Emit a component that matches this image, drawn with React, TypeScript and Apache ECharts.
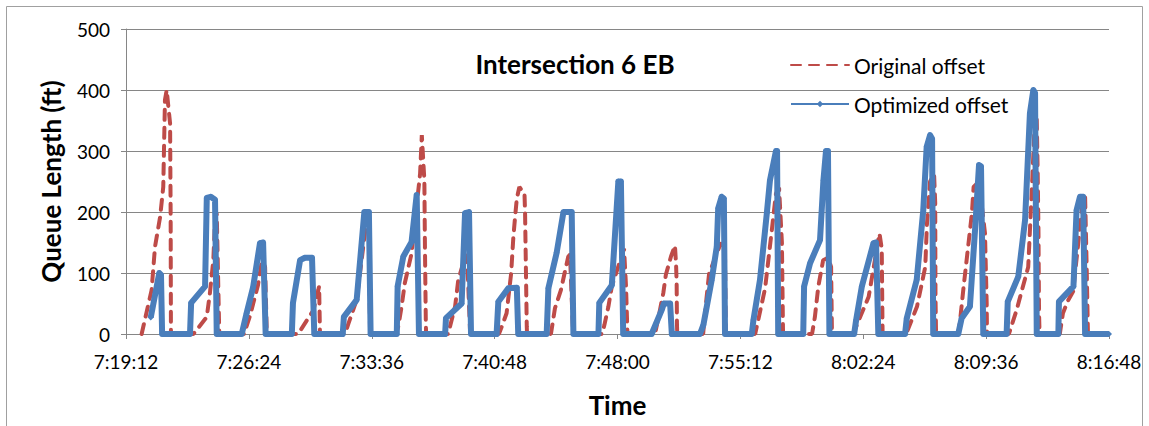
import React, { useEffect, useRef } from "react";
import * as echarts from "echarts";

// time axis: seconds after 7:19:12, one tick every 7:12
const tickStep = 432;
const xTickLabels = [
  "7:19:12",
  "7:26:24",
  "7:33:36",
  "7:40:48",
  "7:48:00",
  "7:55:12",
  "8:02:24",
  "8:09:36",
  "8:16:48",
];

// Original offset (red dashed)
const origTime = [
  55, 90, 102, 120, 131, 137, 143, 155, 157, 158,
  237, 284, 295, 307, 313, 319, 328,
  415, 436, 464, 478, 489, 495,
  605, 659, 676, 679, 682,
  770, 782, 811, 844, 854, 858,
  949, 957, 969, 980, 1004, 1034, 1040, 1049, 1051, 1054, 1055,
  1132, 1139, 1157, 1168, 1192, 1199, 1210,
  1311, 1321, 1338, 1354, 1362, 1368, 1374, 1383, 1401, 1403, 1409, 1410,
  1494, 1508, 1529, 1543, 1555, 1561, 1572,
  1674, 1682, 1696, 1708, 1751, 1758, 1763,
  1860, 1875, 1889, 1898, 1916, 1930, 1934, 1936, 1937, 1938,
  2029, 2039, 2050, 2092, 2106, 2109,
  2212, 2247, 2268, 2285, 2296, 2306, 2310,
  2412, 2422, 2434, 2451, 2468, 2479, 2482,
  2556, 2611, 2649, 2657, 2660,
  2743, 2781, 2810, 2816, 2827, 2841, 2845, 2846, 2848,
  2926, 2932, 2945, 2974, 2980, 2999, 3020, 3026, 3027,
  3104, 3131, 3172, 3186, 3196, 3202, 3205, 3208, 3210, 3212,
  3283, 3294, 3312, 3330, 3365, 3372, 3377, 3382,
  3456,
];
const origQueue = [
  0, 72, 143, 192, 241, 384, 400, 345, 192, 0,
  0, 28, 67, 121, 187, 198, 0,
  0, 30, 80, 121, 110, 0,
  0, 39, 72, 78, 0,
  0, 17, 56, 180, 190, 0,
  0, 12, 45, 83, 132, 263, 326, 252, 143, 23, 0,
  0, 12, 45, 88, 127, 130, 0,
  0, 12, 34, 99, 160, 192, 222, 241, 230, 200, 12, 0,
  0, 42, 72, 102, 127, 130, 0,
  0, 15, 45, 78, 140, 78, 0,
  0, 34, 67, 97, 127, 145, 113, 82, 18, 0,
  0, 50, 99, 150, 127, 0,
  0, 75, 160, 230, 240, 150, 0,
  0, 28, 78, 121, 125, 110, 0,
  0, 61, 165, 140, 0,
  0, 45, 110, 181, 250, 262, 215, 61, 0,
  0, 20, 78, 198, 241, 250, 165, 50, 0,
  0, 39, 110, 250, 360, 351, 274, 170, 34, 0,
  0, 34, 55, 70, 225, 225, 121, 0,
  0,
];

// Optimized offset (blue with markers)
const optTime = [
  87, 117, 123, 127,
  225, 229, 278, 284, 298, 313, 319,
  407, 424, 447, 471, 482, 491,
  583, 587, 612, 629, 654, 662,
  762, 766, 811, 838, 854, 860,
  952, 955, 975, 1004, 1022, 1030,
  1122, 1125, 1180, 1192, 1206, 1213,
  1303, 1309, 1344, 1374, 1379,
  1479, 1485, 1514, 1538, 1567, 1573,
  1661, 1664, 1708, 1731, 1740, 1748,
  1848, 1884, 1891, 1913, 1919,
  2018, 2030, 2059, 2077, 2082, 2094, 2102, 2106,
  2200, 2206, 2229, 2253, 2264, 2285, 2289, 2293,
  2381, 2384, 2405, 2440, 2452, 2461, 2468, 2473,
  2560, 2567, 2587, 2628, 2637, 2645,
  2739, 2745, 2780, 2803, 2815, 2827, 2834, 2838,
  2926, 2938, 2967, 2985, 2999, 3006, 3014,
  3096, 3100, 3137, 3161, 3178, 3190, 3196, 3202,
  3278, 3280, 3331, 3342, 3354, 3365, 3372,
  3456,
];
const optQueue = [
  27, 100, 97, 0,
  0, 51, 78, 223, 225, 220, 0,
  0, 34, 77, 149, 150, 0,
  0, 51, 121, 125, 125, 0,
  0, 28, 56, 200, 200, 0,
  0, 78, 127, 151, 228, 0,
  0, 26, 50, 198, 200, 0,
  0, 53, 75, 76, 0,
  0, 75, 133, 200, 200, 0,
  0, 51, 80, 250, 250, 0,
  0, 40, 50, 50, 0,
  0, 15, 88, 143, 206, 225, 222, 0,
  0, 23, 89, 198, 252, 300, 300, 0,
  0, 78, 116, 154, 252, 300, 300, 0,
  0, 23, 78, 149, 150, 0,
  0, 26, 89, 203, 307, 326, 320, 0,
  0, 26, 45, 170, 277, 275, 0,
  0, 53, 94, 187, 362, 400, 395, 0,
  0, 53, 78, 203, 225, 225, 0,
  0,
];

const FONT = "Lato";
const GRID_COLOR = "#868686";
const RED = "#BE4B48";
const BLUE = "#4A7EBB";

const App = () => {
  const chartRef = useRef<HTMLDivElement>(null);

  useEffect(() => {
    if (!chartRef.current) return;
    const chart = echarts.init(chartRef.current, null, { renderer: "svg" });

    const option = {
      animation: false,
      backgroundColor: "#ffffff",
      textStyle: { fontFamily: FONT },
      grid: { left: 126, right: 40, top: 29, bottom: 92 },
      graphic: [
        {
          type: "rect",
          silent: true,
          z: -1,
          shape: { x: 6.5, y: 6.5, width: 1136, height: 440 },
          style: { fill: "none", stroke: "#a0a0a0", lineWidth: 1 },
        },
        {
          type: "text",
          x: 575,
          y: 64,
          style: {
            text: "Intersection 6 EB",
            fontFamily: FONT,
            fontSize: 26,
            fontWeight: "bold",
            fill: "#000",
            align: "center",
            verticalAlign: "middle",
          },
        },
      ],
      legend: {
        orient: "vertical",
        left: 785,
        top: 48,
        padding: 5,
        itemWidth: 58,
        itemHeight: 8,
        itemGap: 15,
        textStyle: {
          fontFamily: FONT,
          fontSize: 21,
          lineHeight: 24,
          color: "#000",
        },
        data: [
          { name: "Original offset", itemStyle: { opacity: 0 } },
          { name: "Optimized offset" },
        ],
      },
      xAxis: {
        type: "value",
        min: 0,
        max: 3456,
        interval: tickStep,
        name: "Time",
        nameLocation: "middle",
        nameGap: 58,
        nameTextStyle: {
          fontFamily: FONT,
          fontSize: 26,
          fontWeight: "bold",
          color: "#000",
        },
        axisLine: { lineStyle: { color: GRID_COLOR } },
        axisTick: { show: true, length: 5, lineStyle: { color: GRID_COLOR } },
        splitLine: { show: false },
        axisLabel: {
          margin: 18,
          fontFamily: FONT,
          fontSize: 19,
          color: "#000",
          formatter: (v: number) => xTickLabels[Math.round(v / tickStep)] ?? "",
        },
      },
      yAxis: {
        type: "value",
        min: 0,
        max: 500,
        interval: 100,
        name: "Queue Length (ft)",
        nameLocation: "middle",
        nameGap: 62,
        nameTextStyle: {
          fontFamily: FONT,
          fontSize: 26,
          fontWeight: "bold",
          color: "#000",
        },
        axisLine: { show: true, lineStyle: { color: GRID_COLOR } },
        axisTick: { show: true, length: 5, lineStyle: { color: GRID_COLOR } },
        splitLine: { show: true, lineStyle: { color: GRID_COLOR, width: 1 } },
        axisLabel: { margin: 16, fontFamily: FONT, fontSize: 19, color: "#000" },
      },
      series: [
        {
          name: "Original offset",
          type: "line",
          data: origTime.map((t, i) => [t, origQueue[i]]),
          symbol: "none",
          color: RED,
          lineStyle: { color: RED, width: 4, type: [10, 8], cap: "round" },
          z: 2,
        },
        {
          name: "Optimized offset",
          type: "line",
          data: optTime.map((t, i) => [t, optQueue[i]]),
          symbol: "diamond",
          symbolSize: 6,
          showAllSymbol: true,
          color: BLUE,
          itemStyle: { color: BLUE },
          lineStyle: { color: BLUE, width: 6, join: "round" },
          z: 3,
        },
      ],
    };

    chart.setOption(option);
    return () => {
      chart.dispose();
    };
  }, []);

  return (
    <div
      ref={chartRef}
      style={{
        position: "fixed",
        left: 0,
        top: 0,
        width: 1149,
        height: 426,
        background: "#fff",
      }}
    />
  );
};

export default App;
